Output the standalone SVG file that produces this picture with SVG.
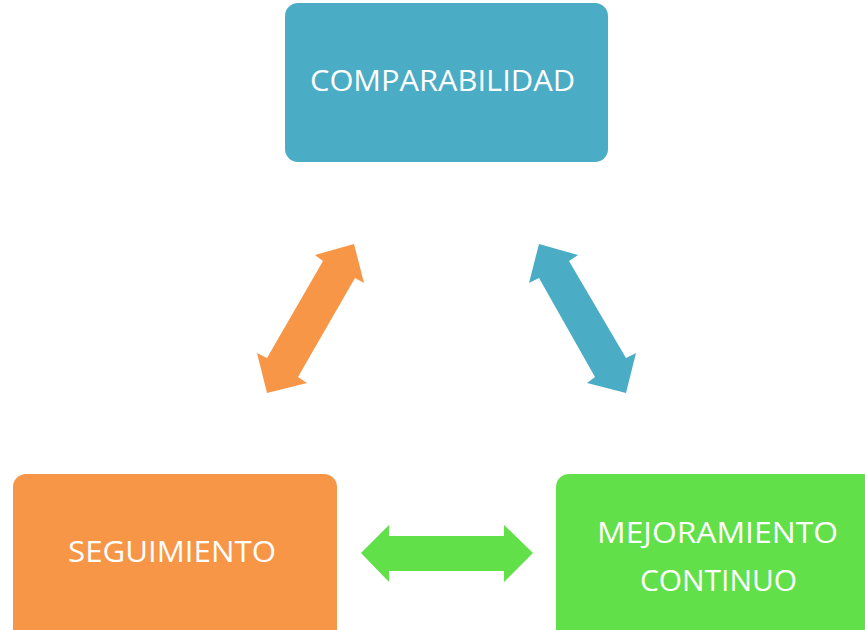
<svg xmlns="http://www.w3.org/2000/svg" width="865" height="630" viewBox="0 0 865 630">
<style>
.lbl{font-family:"Open Sans","Liberation Sans",sans-serif;font-size:30px;fill:#fff}
</style>
<rect width="865" height="630" fill="#fff"/>
<g id="connectors">
<polygon fill="#F79646" points="354,244 364,283 355,278 298,377 307,383 267,393 257,353 267,358 323,261 315,255"/>
<polygon fill="#4BACC6" points="539,244 578,255 569,261 626,358 636,353 626,393 587,383 595,377 539,278 529,283"/>
<polygon fill="#61E04A" points="361,553 389,525 389,536 504,536 504,525 533,553 504,582 504,571 389,571 389,582"/>
</g>
<g id="comparabilidad">
<rect x="285" y="3" width="323" height="159" rx="13" fill="#4BACC6"/>
<text class="lbl" x="310" y="91" textLength="265" lengthAdjust="spacingAndGlyphs">COMPARABILIDAD</text>
</g>
<g id="seguimiento">
<rect x="13" y="474" width="324" height="170" rx="13" fill="#F79646"/>
<text class="lbl" x="68" y="562" textLength="208" lengthAdjust="spacingAndGlyphs">SEGUIMIENTO</text>
</g>
<g id="mejoramiento">
<rect x="556" y="474" width="330" height="170" rx="13" fill="#61E04A"/>
<text class="lbl" x="597" y="543" textLength="241" lengthAdjust="spacingAndGlyphs">MEJORAMIENTO</text>
<text class="lbl" x="640" y="591" textLength="157" lengthAdjust="spacingAndGlyphs">CONTINUO</text>
</g>
</svg>
